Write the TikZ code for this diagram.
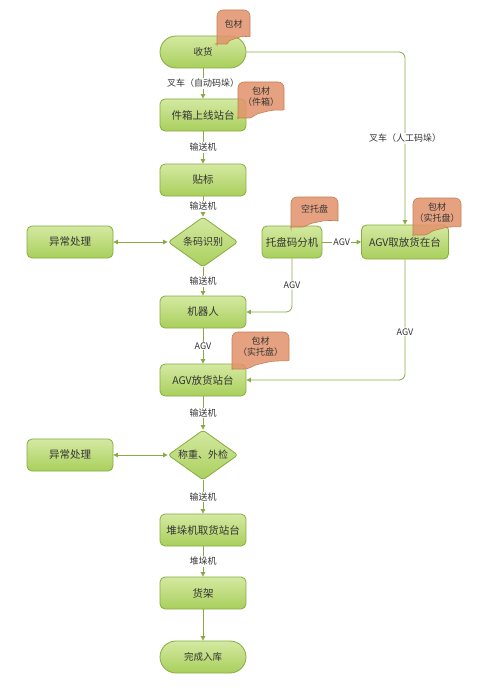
\documentclass[tikz,border=0pt]{standalone}
\usepackage{fontspec}
\setmainfont{Noto Sans CJK SC}
\usetikzlibrary{shapes.geometric,arrows.meta,positioning}

\definecolor{leafline}{HTML}{8AAA45}
\definecolor{leaftop}{HTML}{D4E9A2}
\definecolor{leafbot}{HTML}{A9CF5C}
\definecolor{leafedge}{HTML}{86AC3E}
\definecolor{tagfill}{HTML}{E2926A}
\definecolor{tagedge}{HTML}{C47F52}
\definecolor{inkgray}{HTML}{333333}

\tikzset{
  procbox/.style={draw=leafedge, line width=0.8pt, rounded corners=5pt,
    top color=leaftop, bottom color=leafbot, minimum width=86pt,
    minimum height=32pt, inner sep=2pt, font=\fontsize{10.5}{12}\selectfont, text=inkgray},
  termbox/.style={procbox, rounded corners=16pt, font=\fontsize{9.5}{11}\selectfont},
  decision/.style={diamond, aspect=1.4, draw=leafedge, line width=0.8pt,
    rounded corners=3pt, top color=leaftop, bottom color=leafbot,
    minimum width=70pt, minimum height=50pt, inner sep=0pt,
    font=\fontsize{10}{11}\selectfont, text=inkgray},
  flow/.style={draw=leafline, line width=0.8pt, -{Triangle[width=4.5pt,length=4.5pt]}},
  flowboth/.style={draw=leafline, line width=0.8pt,
    {Triangle[width=4.5pt,length=4.5pt]}-{Triangle[width=4.5pt,length=4.5pt]}},
  lbl/.style={fill=white, inner sep=1pt, font=\fontsize{9}{10}\selectfont, text=inkgray},
  tagnote/.style={draw=tagedge, fill=tagfill, fill opacity=0.85, line width=0.6pt,
    rounded corners=6pt},
  tagtext/.style={font=\fontsize{9}{10.5}\selectfont, text=inkgray, align=center, inner sep=0pt},
}

% wavy note: left, top, right, bottom, name, text
\newcommand{\wavetag}[6]{%
  \draw[tagnote] (#1,#2) -- (#3,#2) -- (#3,{#2+0.6*(#4-#2)})
    .. controls (#3,{#2+0.8*(#4-#2)}) and ({#3-0.2*(#3-#1)},{#2+0.76*(#4-#2)}) .. ({#1+0.55*(#3-#1)},{#2+0.84*(#4-#2)})
    .. controls ({#1+0.38*(#3-#1)},{#2+0.9*(#4-#2)}) and ({#1+0.3*(#3-#1)},#4) .. ({#1+0.12*(#3-#1)},#4)
    .. controls (#1,#4) .. (#1,{#4-0.15*(#4-#2)}) -- cycle;
  \node[tagtext] (#5) at ({(#1+#3)/2},{#2+0.4*(#4-#2)}) {#6};}

\begin{document}
\begin{tikzpicture}[x=1pt,y=-1pt]
  \useasboundingbox (0,0) rectangle (492,690);

  % main column
  \node[termbox] (recv) at (203,52) {收货};
  \node[procbox] (online) at (203,115) {件箱上线站台};
  \node[procbox] (label) at (203,180) {贴标};
  \node[decision] (scan) at (203,242) {条码识别};
  \node[procbox] (err1) at (70,242) {异常处理};
  \node[procbox] (robot) at (203,312) {机器人};
  \node[procbox] (agvdrop) at (203,380) {AGV放货站台};
  \node[decision] (weigh) at (203,455) {称重、外检};
  \node[procbox] (err2) at (70,455) {异常处理};
  \node[procbox] (stacker) at (203,530) {堆垛机取货站台};
  \node[procbox] (rack) at (203,593) {货架};
  \node[termbox] (done) at (203,657) {完成入库};

  % right branch
  \node[procbox, minimum width=60pt] (sorter) at (292,242) {托盘码分机};
  \node[procbox, minimum width=87pt, minimum height=34pt] (agvpick) at (405,242) {AGV取放货在台};

  % connectors
  \draw[flow] (recv) -- node[lbl]{叉车（自动码垛）} (online);
  \draw[flow] (online) -- node[lbl]{输送机} (label);
  \draw[flow] (label) -- node[lbl]{输送机} (scan);
  \draw[flowboth] (scan) -- (err1);
  \draw[flow] (scan) -- node[lbl]{输送机} (robot);
  \draw[flow] (robot) -- node[lbl]{AGV} (agvdrop);
  \draw[flow] (agvdrop) -- node[lbl]{输送机} (weigh);
  \draw[flowboth] (weigh) -- (err2);
  \draw[flow] (weigh) -- node[lbl]{输送机} (stacker);
  \draw[flow] (stacker) -- node[lbl]{堆垛机} (rack);
  \draw[flow] (rack) -- (done);

  \draw[flow, rounded corners=6pt] (recv.east) -| node[lbl, pos=0.75]{叉车（人工码垛）} (agvpick.north);
  \draw[flow] (sorter) -- node[lbl]{AGV} (agvpick);
  \draw[flow, rounded corners=6pt] (sorter.south) |- node[lbl, pos=0.25]{AGV} (robot.east);
  \draw[flow, rounded corners=6pt] (agvpick.south) |- node[lbl, pos=0.3]{AGV} (agvdrop.east);

  % notes
  \wavetag{217}{10}{250}{44}{pack1}{包材}
  \wavetag{238}{82}{284}{118}{pack2}{包材\\（件箱）}
  \wavetag{291}{197}{338}{227}{empty}{空托盘}
  \wavetag{413}{198}{461}{235}{pack3}{包材\\（实托盘）}
  \wavetag{232}{332}{289}{369}{pack4}{包材\\（实托盘）}
\end{tikzpicture}
\end{document}
